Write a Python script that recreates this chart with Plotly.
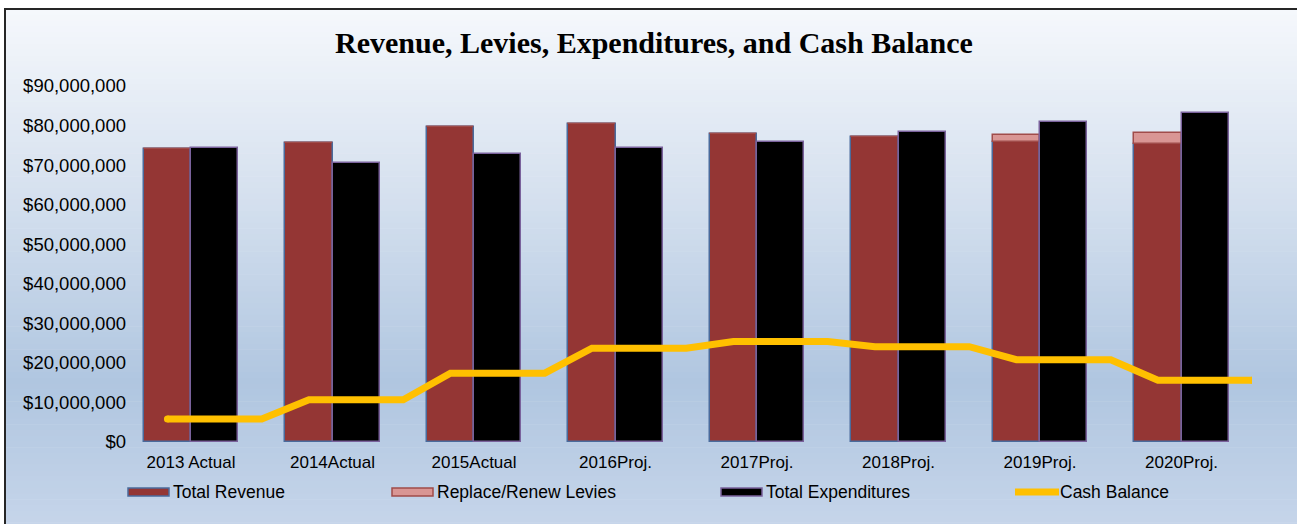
import plotly.graph_objects as go

# ---- data (dollars) ----
categories = ["2013 Actual", "2014Actual", "2015Actual", "2016Proj.",
              "2017Proj.", "2018Proj.", "2019Proj.", "2020Proj."]
total_revenue = [74.0e6, 75.5e6, 79.6e6, 80.5e6, 77.8e6, 77.1e6, 75.9e6, 75.3e6]
replace_renew_levies = [0, 0, 0, 0, 0, 0, 1.6e6, 2.9e6]
total_expenditures = [74.4e6, 70.6e6, 72.7e6, 74.3e6, 75.9e6, 78.3e6, 80.8e6, 83.3e6]
cash_balance = [5.8e6, 10.7e6, 17.4e6, 23.7e6, 25.4e6, 24.1e6, 20.8e6, 15.6e6]
y_tick_values = [0, 10e6, 20e6, 30e6, 40e6, 50e6, 60e6, 70e6, 80e6, 90e6]

# ---- page geometry (px) ----
W, H = 1297, 524
PLOT_L, PLOT_R, PLOT_T, PLOT_B = 129, 1252, 86, 442
STEP = 141.5          # width of one category slot
FIRST_CENTER = 191    # pixel centre of the first category

x_min = -(FIRST_CENTER - PLOT_L) / STEP
x_max = (PLOT_R - FIRST_CENTER) / STEP


def px_x(p):
    return (p - PLOT_L) / (PLOT_R - PLOT_L)


def px_y(p):
    return (PLOT_B - p) / (PLOT_B - PLOT_T)


REV_COLOR = "#943634"
LEVY_COLOR = "#d99694"
EXP_COLOR = "#000000"
CASH_COLOR = "#ffc000"
REV_EDGE = "#4a6b9c"
LEVY_EDGE = "#a04c4a"
EXP_EDGE = "#7a629c"

idx = list(range(len(categories)))
bar_w = 1 / 3

fig = go.Figure()

fig.add_trace(go.Bar(
    name="Total Revenue", x=idx, y=total_revenue, width=bar_w, offset=-bar_w,
    marker=dict(color=REV_COLOR, line=dict(color=REV_EDGE, width=1.5)),
))
fig.add_trace(go.Bar(
    name="Replace/Renew Levies", x=idx, y=replace_renew_levies, base=total_revenue,
    width=bar_w, offset=-bar_w,
    marker=dict(color=LEVY_COLOR, line=dict(color=LEVY_EDGE, width=1.5)),
))
fig.add_trace(go.Bar(
    name="Total Expenditures", x=idx, y=total_expenditures, width=bar_w, offset=0,
    marker=dict(color=EXP_COLOR, line=dict(color=EXP_EDGE, width=1.5)),
))

# cash balance: held level across each year, stepping between years
cash_x, cash_y = [], []
for i, v in zip(idx, cash_balance):
    cash_x += [i - 1 / 6, i + 1 / 2]
    cash_y += [v, v]
fig.add_trace(go.Scatter(
    name="Cash Balance", x=cash_x, y=cash_y, mode="lines",
    line=dict(color=CASH_COLOR, width=7),
))
fig.add_trace(go.Scatter(
    x=[cash_x[0], cash_x[-1]], y=[cash_y[0], cash_y[-1]], mode="markers",
    marker=dict(color=CASH_COLOR, size=7), hoverinfo="skip", showlegend=False,
))

# ---- background: chart box with vertical gradient ----
stops = [(0.0, (245, 248, 252)), (0.35, (214, 225, 239)),
         (0.72, (176, 198, 224)), (1.0, (198, 213, 234))]


def grad(t):
    for (t0, c0), (t1, c1) in zip(stops[:-1], stops[1:]):
        if t <= t1:
            f = (t - t0) / (t1 - t0)
            return tuple(round(a + (b - a) * f) for a, b in zip(c0, c1))
    return stops[-1][1]


shapes = []
box_top, box_bot = 9, H + 4
n_bands = 90
for k in range(n_bands):
    y0 = box_top + (box_bot - box_top) * k / n_bands
    y1 = box_top + (box_bot - box_top) * (k + 1) / n_bands
    r, g, b = grad((k + 0.5) / n_bands)
    shapes.append(dict(type="rect", xref="paper", yref="paper", layer="below",
                       x0=px_x(5), x1=px_x(W + 5), y0=px_y(y1 + 0.6), y1=px_y(y0),
                       fillcolor=f"rgb({r},{g},{b})", line=dict(width=0)))
shapes.append(dict(type="rect", xref="paper", yref="paper", layer="below",
                   x0=px_x(5), x1=px_x(W + 5), y0=px_y(box_bot), y1=px_y(box_top),
                   fillcolor="rgba(0,0,0,0)", line=dict(color="#262626", width=2)))

# ---- legend row ----
annotations = []
LEG_Y = 492
legend_items = [
    ("Total Revenue", 128, "bar", REV_COLOR, REV_EDGE),
    ("Replace/Renew Levies", 392, "bar", LEVY_COLOR, LEVY_EDGE),
    ("Total Expenditures", 721, "bar", EXP_COLOR, EXP_EDGE),
    ("Cash Balance", 1015, "line", CASH_COLOR, CASH_COLOR),
]
for label, x0, kind, fill, edge in legend_items:
    if kind == "bar":
        shapes.append(dict(type="rect", xref="paper", yref="paper",
                           x0=px_x(x0), x1=px_x(x0 + 41), y0=px_y(LEG_Y + 4), y1=px_y(LEG_Y - 4),
                           fillcolor=fill, line=dict(color=edge, width=1.5)))
    else:
        shapes.append(dict(type="line", xref="paper", yref="paper",
                           x0=px_x(x0), x1=px_x(x0 + 44), y0=px_y(LEG_Y), y1=px_y(LEG_Y),
                           line=dict(color=fill, width=7)))
    annotations.append(dict(text=label, xref="paper", yref="paper",
                            x=px_x(x0 + 43), y=px_y(LEG_Y), xanchor="left", yanchor="middle",
                            showarrow=False, font=dict(size=17.5, color="#000000")))

annotations.append(dict(
    text="<b>Revenue, Levies, Expenditures, and Cash Balance</b>",
    xref="paper", yref="paper", x=px_x(654), y=px_y(43),
    xanchor="center", yanchor="middle", showarrow=False,
    font=dict(family="Liberation Serif, Times New Roman, serif", size=30, color="#000000"),
))

fig.update_layout(
    width=W, height=H,
    margin=dict(l=PLOT_L, r=W - PLOT_R, t=PLOT_T, b=H - PLOT_B, pad=0),
    paper_bgcolor="white", plot_bgcolor="rgba(0,0,0,0)",
    barmode="overlay", bargap=0,
    showlegend=False,
    font=dict(family="Liberation Sans, Arial, sans-serif", color="#000000"),
    shapes=shapes, annotations=annotations,
    xaxis=dict(range=[x_min, x_max], tickmode="array", tickvals=idx, ticktext=categories,
               showgrid=False, zeroline=False, showline=False, ticks="",
               ticklabelstandoff=8, tickfont=dict(size=17), fixedrange=True),
    yaxis=dict(range=[0, 90e6], tickmode="array", tickvals=y_tick_values,
               ticktext=[f"${v:,.0f}" for v in y_tick_values],
               showgrid=False, zeroline=False, showline=False, ticks="",
               ticklabelstandoff=2, tickfont=dict(size=18.5), fixedrange=True),
)

fig.write_html("out.html", config={"displayModeBar": False})
